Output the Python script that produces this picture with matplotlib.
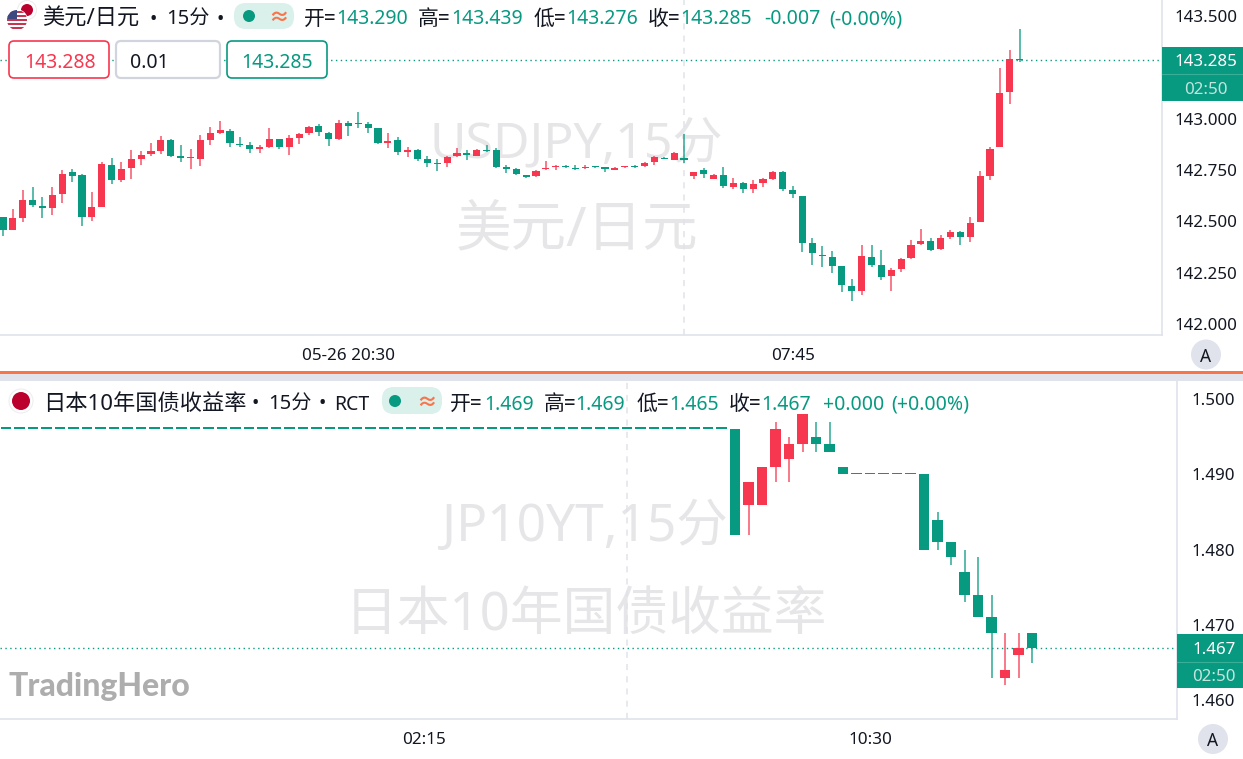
import matplotlib
matplotlib.use('Agg')
import matplotlib.pyplot as plt
from matplotlib.patches import Circle, FancyBboxPatch, Rectangle

FONT = ['Noto Sans', 'Noto Sans CJK SC', 'DejaVu Sans']
plt.rcParams['font.family'] = FONT
plt.rcParams['font.size'] = 12

W, H = 1243, 759
RED = '#f7374f'
GREEN = '#089981'
INK = '#131722'
LINE = '#e0e3eb'
MARK = '#e6e6e8'

# USD/JPY 15 min candles
usd_open = [142.520, 142.459, 142.517, 142.603, 142.577, 142.566, 142.633, 142.741, 142.727, 142.520,
            142.571, 142.777, 142.702, 142.761, 142.805, 142.828, 142.844, 142.896, 142.820, 142.807,
            142.805, 142.896, 142.932, 142.943, 142.880, 142.875, 142.855, 142.862, 142.901, 142.862,
            142.906, 142.932, 142.963, 142.930, 142.904, 142.982, 142.982, 142.974, 142.956, 142.883,
            142.896, 142.837, 142.849, 142.803, 142.785, 142.787, 142.818, 142.833, 142.821, 142.849,
            142.849, 142.764, 142.754, 142.722, 142.720, 142.754, 142.763, 142.771, 142.759, 142.761,
            142.767, 142.763, 142.753, 142.764, 142.771, 142.771, 142.792, 142.810, 142.802, 142.808,
            142.722, 142.750, 142.709, 142.725, 142.668, 142.686, 142.660, 142.688, 142.708, 142.743,
            142.654, 142.624, 142.397, 142.338, 142.325, 142.281, 142.185, 142.159, 142.327, 142.285,
            142.233, 142.268, 142.320, 142.389, 142.405, 142.364, 142.424, 142.446, 142.426, 142.496,
            142.722, 142.863, 143.132, 143.290]
usd_close = [142.457, 142.515, 142.603, 142.580, 142.567, 142.628, 142.732, 142.722, 142.520, 142.571,
             142.779, 142.701, 142.756, 142.803, 142.826, 142.842, 142.898, 142.821, 142.810, 142.813,
             142.896, 142.932, 142.945, 142.883, 142.872, 142.854, 142.863, 142.901, 142.863, 142.909,
             142.928, 142.961, 142.935, 142.904, 142.980, 142.963, 142.977, 142.958, 142.881, 142.893,
             142.837, 142.850, 142.805, 142.787, 142.780, 142.815, 142.836, 142.823, 142.849, 142.844,
             142.763, 142.758, 142.730, 142.719, 142.748, 142.759, 142.769, 142.764, 142.754, 142.767,
             142.764, 142.758, 142.759, 142.769, 142.766, 142.787, 142.815, 142.805, 142.833, 142.800,
             142.741, 142.733, 142.725, 142.672, 142.686, 142.660, 142.681, 142.706, 142.743, 142.659,
             142.634, 142.397, 142.346, 142.330, 142.283, 142.189, 142.159, 142.330, 142.285, 142.231,
             142.265, 142.315, 142.387, 142.403, 142.363, 142.420, 142.446, 142.424, 142.494, 142.720,
             142.855, 143.128, 143.291, 143.285]
usd_high = [142.520, 142.559, 142.652, 142.667, 142.618, 142.667, 142.751, 142.754, 142.730, 142.642,
            142.792, 142.807, 142.790, 142.847, 142.842, 142.881, 142.915, 142.904, 142.873, 142.852,
            142.920, 142.959, 142.989, 142.950, 142.911, 142.886, 142.872, 142.954, 142.902, 142.922,
            142.932, 142.967, 142.974, 142.937, 142.993, 142.989, 143.034, 142.987, 142.958, 142.933,
            142.914, 142.862, 142.852, 142.818, 142.803, 142.818, 142.860, 142.847, 142.852, 142.873,
            142.857, 142.777, 142.759, 142.725, 142.751, 142.793, 142.776, 142.774, 142.774, 142.774,
            142.772, 142.767, 142.764, 142.771, 142.777, 142.792, 142.820, 142.813, 142.837, 142.925,
            142.743, 142.759, 142.730, 142.764, 142.711, 142.694, 142.701, 142.712, 142.748, 142.745,
            142.673, 142.624, 142.421, 142.379, 142.354, 142.283, 142.220, 142.387, 142.384, 142.359,
            142.275, 142.320, 142.411, 142.462, 142.418, 142.436, 142.457, 142.455, 142.520, 142.746,
            142.863, 143.247, 143.338, 143.439]
usd_low = [142.431, 142.459, 142.496, 142.572, 142.517, 142.532, 142.590, 142.693, 142.476, 142.501,
           142.571, 142.681, 142.694, 142.706, 142.776, 142.820, 142.831, 142.816, 142.792, 142.754,
           142.772, 142.875, 142.924, 142.865, 142.865, 142.833, 142.833, 142.857, 142.855, 142.824,
           142.876, 142.920, 142.919, 142.870, 142.899, 142.917, 142.958, 142.933, 142.876, 142.859,
           142.826, 142.815, 142.797, 142.767, 142.748, 142.764, 142.815, 142.800, 142.818, 142.839,
           142.759, 142.738, 142.727, 142.712, 142.719, 142.753, 142.750, 142.761, 142.751, 142.758,
           142.759, 142.741, 142.751, 142.761, 142.759, 142.763, 142.777, 142.803, 142.798, 142.787,
           142.709, 142.712, 142.708, 142.665, 142.659, 142.637, 142.639, 142.670, 142.704, 142.650,
           142.616, 142.350, 142.286, 142.276, 142.247, 142.158, 142.112, 142.143, 142.280, 142.213,
           142.161, 142.255, 142.318, 142.387, 142.354, 142.360, 142.413, 142.387, 142.402, 142.496,
           142.702, 142.863, 143.073, 143.276]
usd_ticks = [142.0, 142.25, 142.5, 142.75, 143.0, 143.5]
usd_tick_labels = ['142.000', '142.250', '142.500', '142.750', '143.000', '143.500']
usd_times = [35, 80]
usd_time_labels = ['05-26 20:30', '07:45']
usd_last = 143.285

# JP 10Y yield, the market is shut for most of the window so the bars are flat
jp_flat = [1.496] * 55
jp_gap = [1.490] * 5
jp_open = jp_flat + [1.496, 1.486, 1.486, 1.491, 1.492, 1.494, 1.495, 1.494, 1.491] + jp_gap + \
    [1.490, 1.484, 1.481, 1.477, 1.474, 1.471, 1.463, 1.466, 1.469]
jp_close = jp_flat + [1.482, 1.489, 1.491, 1.496, 1.494, 1.498, 1.494, 1.493, 1.490] + jp_gap + \
    [1.480, 1.481, 1.479, 1.474, 1.471, 1.469, 1.464, 1.467, 1.467]
jp_high = jp_flat + [1.496, 1.489, 1.491, 1.497, 1.495, 1.498, 1.497, 1.497, 1.491] + jp_gap + \
    [1.490, 1.485, 1.481, 1.480, 1.479, 1.474, 1.469, 1.469, 1.469]
jp_low = jp_flat + [1.482, 1.482, 1.486, 1.489, 1.489, 1.493, 1.493, 1.493, 1.490] + jp_gap + \
    [1.480, 1.480, 1.478, 1.473, 1.471, 1.463, 1.462, 1.463, 1.465]
jp_ticks = [1.46, 1.47, 1.48, 1.49, 1.50]
jp_tick_labels = ['1.460', '1.470', '1.480', '1.490', '1.500']
jp_times = [32, 65]
jp_time_labels = ['02:15', '10:30']
jp_last = 1.467


def pane(fig, x0, y0, x1, y1):
    ax = fig.add_axes([x0 / W, 1 - y1 / H, (x1 - x0) / W, (y1 - y0) / H])
    for s in ['top', 'left', 'bottom', 'right']:
        ax.spines[s].set_color(LINE)
    ax.spines['top'].set_visible(False)
    ax.spines['left'].set_visible(False)
    ax.spines['bottom'].set_linewidth(1.2)
    ax.spines['right'].set_linewidth(1.2)
    return ax


def candles(ax, o, h, l, c, width, min_body):
    for i in range(len(o)):
        col = RED if c[i] > o[i] else GREEN
        if h[i] > l[i]:
            ax.vlines(i, l[i], h[i], color=col, linewidth=1.1, alpha=0.85, zorder=3)
        body = max(abs(c[i] - o[i]), min_body)
        ax.bar(i, body, width=width, bottom=min(o[i], c[i]), color=col, linewidth=0, zorder=4)


def axis_style(ax, ticks, labels, times, time_labels, pad_y):
    ax.set_yticks(ticks)
    ax.set_yticklabels(labels)
    ax.yaxis.tick_right()
    ax.set_xticks(times)
    ax.set_xticklabels(time_labels)
    ax.tick_params(axis='y', length=0, pad=pad_y, labelsize=12.2, labelcolor=INK)
    ax.tick_params(axis='x', length=0, pad=9.5, labelsize=12.3, labelcolor=INK)


fig = plt.figure(figsize=(W / 100, H / 100), dpi=100, facecolor='white')

# upper pane
ax1 = pane(fig, 0, 0, 1162, 335)
ax1.set_xlim(-0.304, 117.43)
ax1.set_ylim(141.946, 143.580)
axis_style(ax1, usd_ticks, usd_tick_labels, usd_times, usd_time_labels, 9.0)
ax1.axvline(69, color=LINE, linestyle=(0, (4, 4)), linewidth=1.1, zorder=1)
ax1.axhline(usd_last, color=GREEN, linestyle=(0, (1, 2.5)), linewidth=1, zorder=2)
ax1.text(0.496, 0.57, 'USDJPY,15分', transform=ax1.transAxes, fontsize=36, color=MARK,
         ha='center', va='center', zorder=0)
ax1.text(0.497, 0.31, '美元/日元', transform=ax1.transAxes, fontsize=40, color=MARK,
         ha='center', va='center', zorder=0)
candles(ax1, usd_open, usd_high, usd_low, usd_close, 0.72, 0.005)

# lower pane
ax2 = pane(fig, 0, 381, 1177, 719)
ax2.set_xlim(0.556, 87.74)
ax2.set_ylim(1.45751, 1.50242)
axis_style(ax2, jp_ticks, jp_tick_labels, jp_times, jp_time_labels, 10.4)
ax2.axvline(47, color=LINE, linestyle=(0, (4, 4)), linewidth=1.1, zorder=1)
ax2.axhline(jp_last, color=GREEN, linestyle=(0, (1, 2.5)), linewidth=1, zorder=2)
ax2.text(0.497, 0.566, 'JP10YT,15分', transform=ax2.transAxes, fontsize=37, color=MARK,
         ha='center', va='center', zorder=0)
ax2.text(0.498, 0.305, '日本10年国债收益率', transform=ax2.transAxes, fontsize=38, color=MARK,
         ha='center', va='center', zorder=0)
candles(ax2, jp_open, jp_high, jp_low, jp_close, 0.78, 0.00026)

# everything else is chart furniture, drawn in pixel coordinates
ui = fig.add_axes([0, 0, 1, 1], zorder=5)
ui.set_xlim(0, W)
ui.set_ylim(H, 0)
ui.axis('off')
ui.patch.set_alpha(0)


def label(x, y, s, color=INK, size=14, ha='left', weight='normal', alpha=1):
    ui.text(x, y, s, color=color, fontsize=size, ha=ha, va='center_baseline', fontweight=weight, alpha=alpha)


def box(x0, y0, x1, y1, edge, face='white', lw=1.2, r=5):
    ui.add_patch(FancyBboxPatch((x0 + r, y0 + r), x1 - x0 - 2 * r, y1 - y0 - 2 * r,
                                boxstyle='round,pad=%d,rounding_size=%d' % (r, r),
                                edgecolor=edge, facecolor=face, linewidth=lw))


# separators
ui.add_patch(Rectangle((0, 371), W, 2.5, color='#f9744b', linewidth=0))
ui.add_patch(Rectangle((0, 373.5), W, 7, color=LINE, linewidth=0))
ui.add_patch(Circle((1206, 354.5), 15, color=LINE, linewidth=0))
ui.add_patch(Circle((1213, 739), 15, color=LINE, linewidth=0))
label(1206, 354.5, 'A', ha='center', size=12.5)
label(1213, 739, 'A', ha='center', size=12.5)

# header, upper
ui.add_patch(Circle((27, 10), 9.5, facecolor='white', edgecolor='#eeeeee', linewidth=0.8))
ui.add_patch(Circle((27, 10), 6, color='#bc002d', linewidth=0))
flag = Circle((17, 20), 10, facecolor='white', edgecolor='white', linewidth=1)
ui.add_patch(flag)
for k in range(5):
    r = Rectangle((6, 11 + k * 4), 22, 2, color='#c9344f', linewidth=0)
    ui.add_patch(r)
    r.set_clip_path(flag)
canton = Rectangle((6, 10), 11, 9, color='#3c4a80', linewidth=0)
ui.add_patch(canton)
canton.set_clip_path(flag)
label(42, 17, '美元/日元', size=16)
label(150, 17, '•')
label(166, 17, '15分', size=14.5)
label(217, 17, '•')
box(234, 3, 294, 29, '#d9f0eb', '#d9f0eb', lw=0, r=12)
ui.add_patch(Circle((249, 16), 6, color=GREEN, linewidth=0))
label(279, 16, '≈', color='#f9744b', ha='center', size=15, weight='bold')
top_head = [(304, '开=', INK), (336, '143.290', GREEN), (418, '高=', INK), (451, '143.439', GREEN),
            (534, '低=', INK), (566, '143.276', GREEN), (648, '收=', INK), (680, '143.285', GREEN),
            (764, '-0.007', GREEN), (829, '(-0.00%)', GREEN)]
for x, s, c in top_head:
    label(x, 17, s, color=c, size=15 if c == INK else 14)

box(9, 41, 109, 78, RED)
label(60, 60, '143.288', color=RED, ha='center')
box(116, 41, 220, 78, '#d1d4dc', lw=1.6)
label(130, 60, '0.01')
box(227, 41, 327, 78, GREEN)
label(277, 60, '143.285', color=GREEN, ha='center')

# price tags
ui.add_patch(Rectangle((1162, 47), 81, 54, color=GREEN, linewidth=0))
ui.plot([1162, 1243], [74, 74], color='#3aae97', linewidth=0.8)
label(1206, 60.5, '143.285', color='white', ha='center', weight='bold', size=12.2)
label(1206, 87.5, '02:50', color='#c2e5de', ha='center', size=12.2)
ui.add_patch(Rectangle((1177, 634), 66, 54, color=GREEN, linewidth=0))
ui.plot([1177, 1243], [661.5, 661.5], color='#3aae97', linewidth=0.8)
label(1214, 648, '1.467', color='white', ha='center', weight='bold', size=12.2)
label(1214, 675, '02:50', color='#c2e5de', ha='center', size=12.2)

# header, lower
ui.add_patch(Circle((21, 401), 12, facecolor='white', edgecolor='#eeeeee', linewidth=0.8))
ui.add_patch(Circle((21, 401), 9, color='#bc002d', linewidth=0))
label(43, 402, '日本10年国债收益率', size=16)
label(252, 402, '•')
label(268, 402, '15分', size=14.5)
label(319, 402, '•')
label(334, 402, 'RCT', size=14)
box(382, 387, 442, 414, '#d9f0eb', '#d9f0eb', lw=0, r=12)
ui.add_patch(Circle((395, 401), 6, color=GREEN, linewidth=0))
label(427, 401, '≈', color='#f9744b', ha='center', size=15, weight='bold')
bot_head = [(450, '开=', INK), (484, '1.469', GREEN), (544, '高=', INK), (575, '1.469', GREEN),
            (637, '低=', INK), (669, '1.465', GREEN), (729, '收=', INK), (761, '1.467', GREEN),
            (823, '+0.000', GREEN), (891, '(+0.00%)', GREEN)]
for x, s, c in bot_head:
    label(x, 402, s, color=c, size=15 if c == INK else 14)

ui.text(9, 684, 'TradingHero', color='#adadad', fontsize=23, fontweight='black', family='Lato',
        ha='left', va='center_baseline')

fig.savefig('out.png', dpi=100)
